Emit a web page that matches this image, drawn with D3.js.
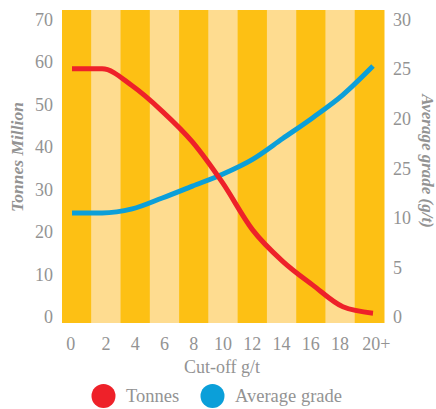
<!DOCTYPE html>
<html>
<head>
<meta charset="utf-8">
<script src="https://cdn.jsdelivr.net/npm/d3@7"></script>
<style>
  html, body { margin: 0; padding: 0; background: #fff; }
  svg { display: block; }
  text { font-family: "Liberation Serif", "Times New Roman", serif; fill: #939393; }
</style>
</head>
<body>
<script>
// Cut-off grade categories shown along the bottom
const categories = ["0", "2", "4", "6", "8", "10", "12", "14", "16", "18", "20+"];

// Cut-off grade (g/t) for each category
const cutoffs = [0, 2, 4, 6, 8, 10, 12, 14, 16, 18, 20];

// Tonnes (million) above cut-off
const tonnes = [58.4, 58.4, 54.4, 48.4, 41.2, 31.6, 20.5, 13.1, 7.5, 2.4, 0.9];

// Average grade (g/t) above cut-off
const avgGrade = [10.5, 10.5, 10.9, 12.0, 13.2, 14.4, 15.9, 18.0, 20.1, 22.4, 25.3];

// Axis ticks
const leftTicks = [0, 10, 20, 30, 40, 50, 60, 70];
const rightTicks = [0, 5, 10, 15, 20, 25, 30];
const rightTickLabels = ["0", "5", "10", "25", "20", "25", "30"];

const W = 436, H = 409;
const plot = { left: 62, right: 384, top: 10, bottom: 323 };

const svg = d3.select("body").append("svg")
  .attr("width", W).attr("height", H);

// Alternating stripe bands
const band = d3.scaleBand()
  .domain(categories)
  .range([plot.left, plot.right])
  .paddingInner(0).paddingOuter(0);

svg.append("g").selectAll("rect")
  .data(categories)
  .join("rect")
  .attr("x", d => band(d))
  .attr("y", plot.top)
  .attr("width", band.bandwidth() + 0.5)
  .attr("height", plot.bottom - plot.top)
  .attr("fill", (d, i) => i % 2 === 0 ? "#FDC014" : "#FEDC90");

// Scales for the two series
const x = d3.scaleLinear().domain([0, 20]).range([72, 373]);
const yL = d3.scaleLinear().domain([0, 70]).range([317, 19.5]);
const yR = d3.scaleLinear().domain([0, 30]).range([317, 19.5]);

// Left axis: tonnes
const leftAxis = svg.append("g")
  .attr("transform", `translate(${plot.left},0)`)
  .call(d3.axisLeft(yL).tickValues(leftTicks).tickSize(0).tickPadding(9));
leftAxis.select(".domain").remove();
leftAxis.selectAll("text")
  .attr("font-size", 18)
  .style("font-family", '"Liberation Serif", serif')
  .attr("fill", "#939393");

// Right axis: average grade
const rightAxis = svg.append("g")
  .attr("transform", `translate(${plot.right},0)`)
  .call(d3.axisRight(yR).tickValues(rightTicks).tickSize(0).tickPadding(9)
    .tickFormat((d, i) => rightTickLabels[i]));
rightAxis.select(".domain").remove();
rightAxis.selectAll("text")
  .attr("font-size", 18)
  .style("font-family", '"Liberation Serif", serif')
  .attr("fill", "#939393");

// Bottom category labels
svg.append("g").selectAll("text")
  .data(categories)
  .join("text")
  .attr("x", d => band(d) + band.bandwidth() / 2)
  .attr("dx", (d, i) => i === 0 ? -6 : i === categories.length - 1 ? 7 : 0)
  .attr("y", 349.5)
  .attr("text-anchor", "middle")
  .attr("font-size", 18)
  .text(d => d);

// Axis titles
svg.append("text")
  .attr("transform", "translate(23,157) rotate(-90)")
  .attr("text-anchor", "middle")
  .attr("font-size", 17.5)
  .attr("font-weight", "bold")
  .attr("font-style", "italic")
  .text("Tonnes Million");

svg.append("text")
  .attr("transform", "translate(422,161) rotate(90)")
  .attr("text-anchor", "middle")
  .attr("font-size", 17)
  .attr("font-weight", "bold")
  .attr("font-style", "italic")
  .text("Average grade (g/t)");

svg.append("text")
  .attr("x", 222)
  .attr("y", 372.5)
  .attr("text-anchor", "middle")
  .attr("font-size", 18)
  .text("Cut-off g/t");

// Series lines
const tonnesLine = d3.line()
  .x((d, i) => x(cutoffs[i]))
  .y(d => yL(d))
  .curve(d3.curveMonotoneX);

const gradeLine = d3.line()
  .x((d, i) => x(cutoffs[i]))
  .y(d => yR(d))
  .curve(d3.curveMonotoneX);

svg.append("path")
  .datum(avgGrade)
  .attr("d", gradeLine)
  .attr("fill", "none")
  .attr("stroke", "#0B9FD9")
  .attr("stroke-width", 5)
  .attr("stroke-linejoin", "round");

svg.append("path")
  .datum(tonnes)
  .attr("d", tonnesLine)
  .attr("fill", "none")
  .attr("stroke", "#EE2129")
  .attr("stroke-width", 5)
  .attr("stroke-linejoin", "round");

// Legend
const legendItems = [
  { label: "Tonnes", color: "#EE2129", cx: 103.5, tx: 126 },
  { label: "Average grade", color: "#0B9FD9", cx: 212.5, tx: 235 }
];
const legend = svg.append("g");
legend.selectAll("circle")
  .data(legendItems)
  .join("circle")
  .attr("cx", d => d.cx)
  .attr("cy", 396)
  .attr("r", 12)
  .attr("fill", d => d.color);
legend.selectAll("text")
  .data(legendItems)
  .join("text")
  .attr("x", d => d.tx)
  .attr("y", 402)
  .attr("font-size", 18.5)
  .text(d => d.label);
</script>
</body>
</html>
